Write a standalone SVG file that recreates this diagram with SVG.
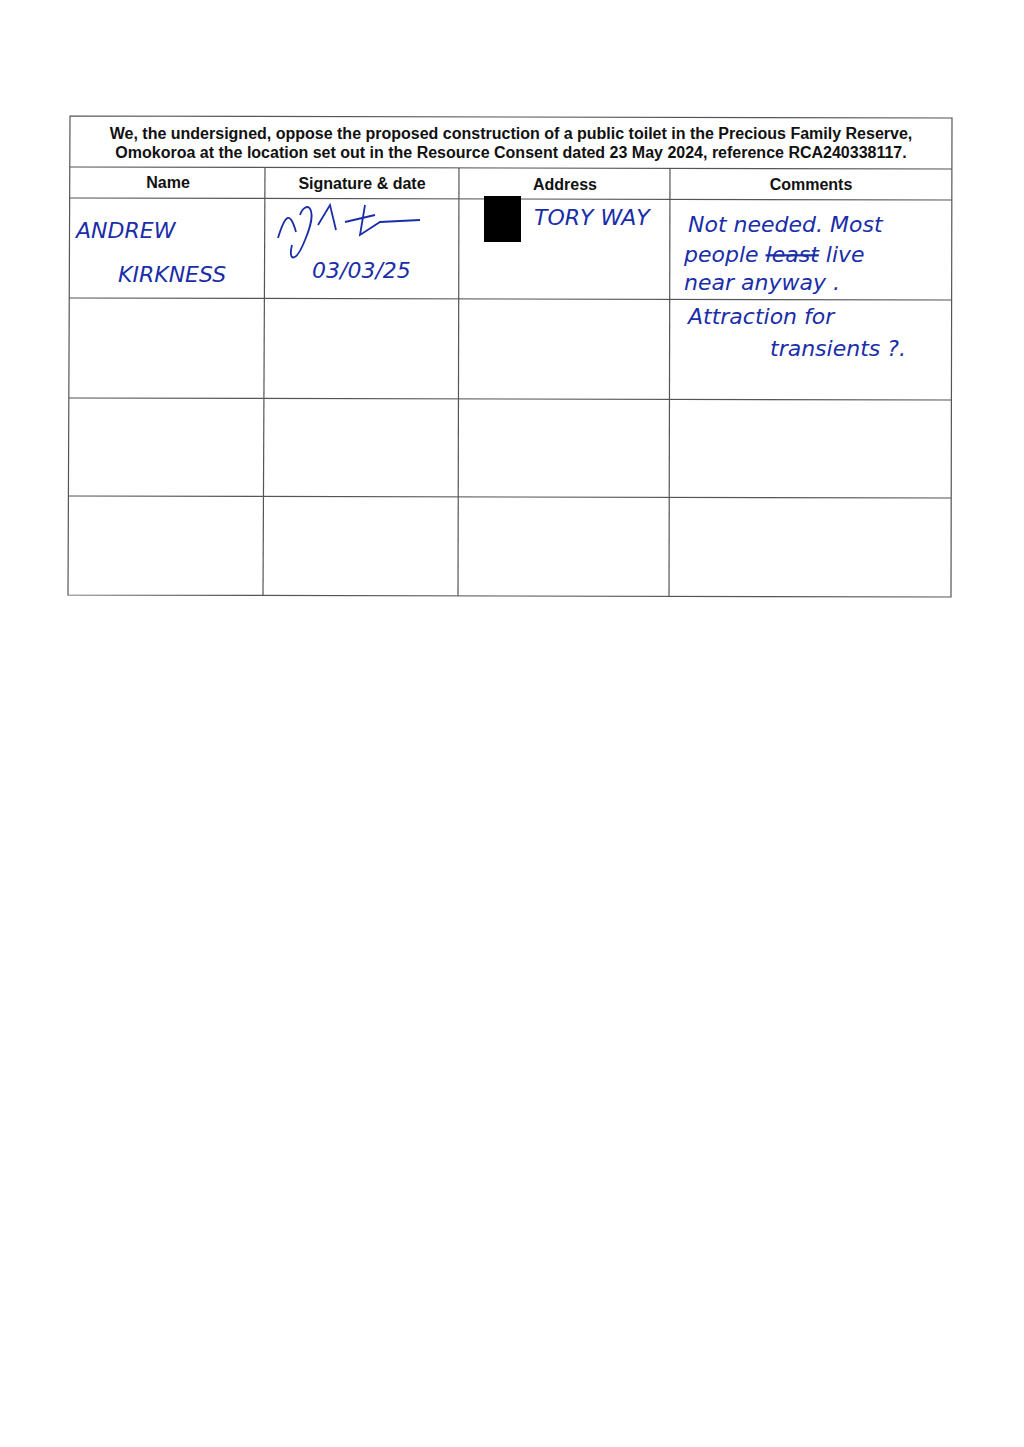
<svg xmlns="http://www.w3.org/2000/svg" width="1024" height="1447" viewBox="0 0 1024 1447">
<style>
.g{stroke:#555;stroke-width:1.2;fill:none}
.h{font-family:"Liberation Sans",Arial,sans-serif;font-weight:bold;font-size:16px;fill:#111;text-anchor:middle}
.w{font-family:"DejaVu Sans",sans-serif;font-style:italic;fill:#1a2ea8;font-size:22px}
</style>
<rect width="1024" height="1447" fill="#fff"/>
<g id="table">
<polygon class="g" points="70,116 952,118 951,597 68,595"/>
<line class="g" x1="70" y1="167" x2="952" y2="169"/>
<line class="g" x1="70" y1="198" x2="952" y2="200"/>
<line class="g" x1="69" y1="298" x2="952" y2="300"/>
<line class="g" x1="69" y1="398" x2="951" y2="400"/>
<line class="g" x1="68" y1="496" x2="951" y2="498"/>
<line class="g" x1="265" y1="167" x2="263" y2="596"/>
<line class="g" x1="459" y1="168" x2="458" y2="596"/>
<line class="g" x1="670" y1="168" x2="669" y2="597"/>
</g>
<g id="header">
<text class="h" x="511" y="139">We, the undersigned, oppose the proposed construction of a public toilet in the Precious Family Reserve,</text>
<text class="h" x="511" y="158">Omokoroa at the location set out in the Resource Consent dated 23 May 2024, reference RCA240338117.</text>
<text class="h" x="168" y="188">Name</text>
<text class="h" x="362" y="189">Signature &amp; date</text>
<text class="h" x="565" y="190">Address</text>
<text class="h" x="811" y="190">Comments</text>
</g>
<g id="entry">
<text class="w" x="76" y="238">ANDREW</text>
<text class="w" x="118" y="282">KIRKNESS</text>
<path d="M278,238 C285,215 290,210 296,232 M300,215 C305,200 320,205 305,240 C295,265 288,260 292,245 M318,225 L330,205 L336,230 M345,222 L375,215 M365,205 L360,235 L380,222 L420,220" stroke="#1a2ea8" stroke-width="1.8" fill="none"/>
<text class="w" x="312" y="278">03/03/25</text>
<rect x="484" y="196" width="37" height="46" fill="#000"/>
<text class="w" x="534" y="225" font-size="20">TORY WAY</text>
<text class="w" x="688" y="232">Not needed. Most</text>
<text class="w" x="684" y="262">people <tspan text-decoration="line-through">least</tspan> live</text>
<text class="w" x="684" y="290">near anyway .</text>
<text class="w" x="688" y="324">Attraction for</text>
<text class="w" x="770" y="356">transients ?.</text>
</g>
</svg>
